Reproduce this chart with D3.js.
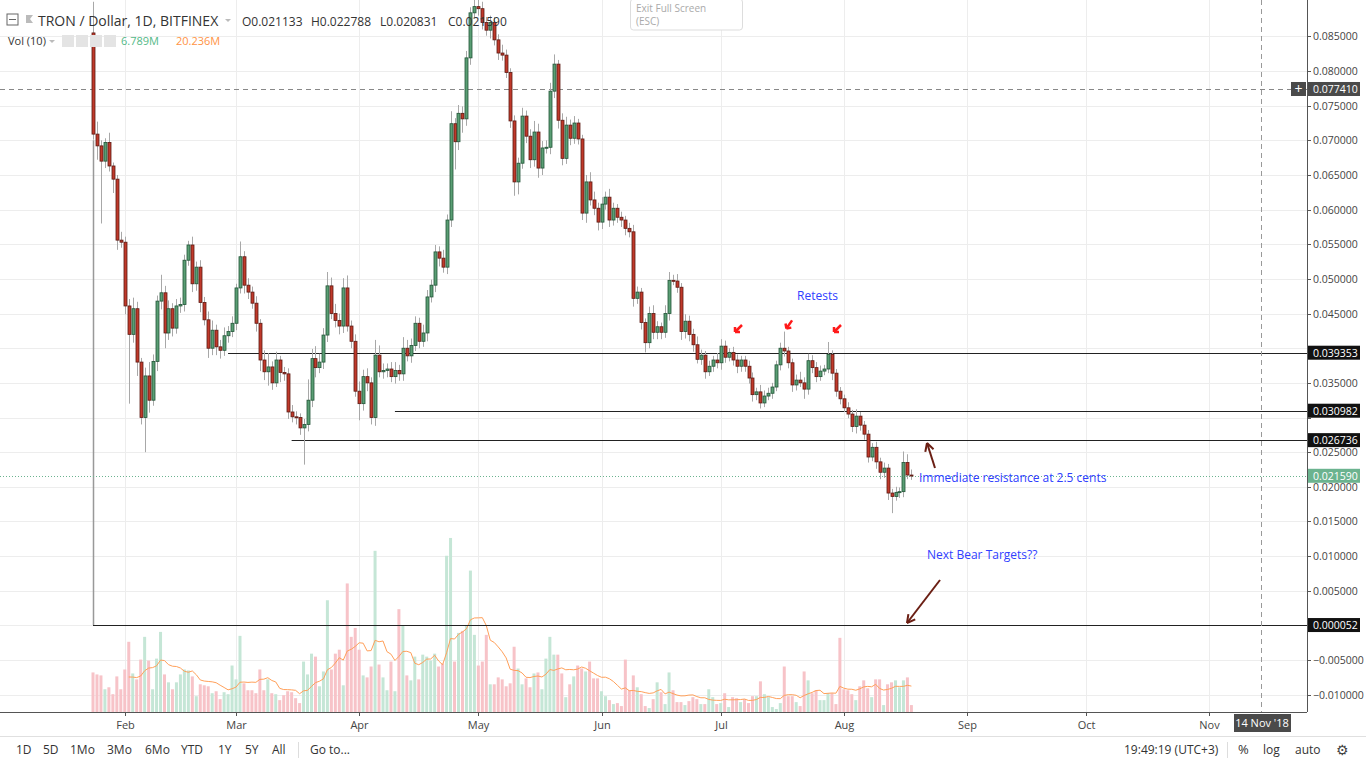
<!DOCTYPE html>
<html><head><meta charset="utf-8">
<script src="https://cdn.jsdelivr.net/npm/d3@7/dist/d3.min.js"></script>
<style>body{margin:0;background:#fff;font-family:"Open Sans",Arial,sans-serif;}svg{display:block}</style>
</head><body><svg id="c" width="1366" height="768"></svg>
<script>
const startDate = "2018-01-24";
const firstOpen = 0.0855;
const closes = [0.0709,0.0692,0.067,0.0697,0.0663,0.0644,0.0556,0.0553,0.0461,0.042,
0.0457,0.038,0.030,0.036,0.0325,0.0381,0.0468,0.048,0.0422,0.0457,
0.0429,0.0461,0.0463,0.0527,0.0549,0.0493,0.0517,0.0466,0.0441,0.0400,
0.0426,0.0402,0.0397,0.0418,0.0424,0.0436,0.0487,0.0532,0.0491,0.0481,
0.0465,0.0436,0.0383,0.0366,0.0373,0.035,0.0383,0.0365,0.0363,0.0308,
0.0301,0.030,0.0285,0.029,0.0325,0.0385,0.0372,0.038,0.0419,0.049,
0.045,0.044,0.0432,0.0487,0.0432,0.041,0.0338,0.032,0.0359,0.035,
0.030,0.039,0.0366,0.0368,0.037,0.0359,0.0368,0.0363,0.040,0.0389,
0.0404,0.0436,0.041,0.0422,0.0474,0.0491,0.0539,0.053,0.0517,0.0585,
0.0724,0.0698,0.0739,0.0731,0.0819,0.0884,0.0893,0.089,0.087,0.0859,
0.087,0.0845,0.0826,0.0823,0.0798,0.0728,0.064,0.0667,0.0735,0.0706,
0.0672,0.0712,0.066,0.0689,0.069,0.0771,0.081,0.0729,0.0674,0.0722,
0.0703,0.0725,0.0702,0.0595,0.064,0.0614,0.0602,0.0582,0.0608,0.0618,
0.0585,0.0602,0.0589,0.0585,0.0573,0.0568,0.0472,0.0481,0.0437,0.0408,
0.045,0.0423,0.0431,0.0423,0.045,0.0498,0.0497,0.0488,0.0424,0.0439,
0.042,0.0405,0.0384,0.039,0.0366,0.0374,0.0383,0.0379,0.0403,0.0387,
0.0394,0.0383,0.0374,0.0383,0.0374,0.0357,0.0333,0.0337,0.0321,0.0331,
0.0335,0.0344,0.0376,0.04,0.0396,0.0379,0.0347,0.0354,0.035,0.0341,
0.0382,0.0372,0.0359,0.0367,0.037,0.0391,0.0364,0.0338,0.0327,0.0314,
0.0305,0.0287,0.0302,0.0289,0.0276,0.0243,0.0257,0.0236,0.0221,0.0227,
0.0191,0.0186,0.0192,0.0193,0.0235,0.0217,0.0216];
const wickUp = [45,18,8,6,14,5,6,12,8,10,16,10,6,12,20,10,8,26,10,12,8,10,10,8,6,12,8,10,8,12,
14,8,10,12,8,10,6,22,8,10,8,10,6,14,20,8,12,6,8,8,10,8,6,8,30,14,18,12,10,20,
12,14,10,14,18,8,10,14,10,12,8,22,14,10,8,10,12,8,16,12,10,10,8,12,10,8,10,8,12,8,
18,8,12,10,10,8,10,12,10,8,10,8,8,12,8,6,8,8,12,8,10,16,12,10,10,12,14,6,10,12,
8,10,6,6,10,14,12,8,10,8,12,8,6,8,6,8,10,8,6,6,10,12,8,6,12,12,8,10,6,10,
8,8,12,8,6,8,6,10,10,8,6,8,8,6,6,8,8,6,10,8,8,6,6,8,24,6,6,8,12,8,
10,8,8,8,6,18,6,6,6,6,8,6,10,6,6,6,6,8,6,8,6,6,8,6,16,12,8];
const wickDn = [8,20,90,10,8,20,14,8,12,100,12,20,10,50,18,8,14,12,22,10,12,8,10,10,8,12,10,14,8,14,
10,12,12,8,10,8,10,8,12,10,8,12,16,12,20,10,6,14,10,10,8,10,10,53,10,10,14,8,10,10,
8,10,12,10,8,10,8,24,10,12,10,12,8,10,10,8,10,10,10,8,10,8,10,8,12,8,10,12,8,10,
10,40,12,20,10,10,8,10,10,8,12,8,10,8,8,10,20,18,8,10,12,10,14,10,8,10,10,12,10,8,
10,8,8,10,14,8,10,12,10,8,10,8,8,10,10,8,12,8,10,14,8,10,10,10,8,10,6,8,12,10,
10,10,6,8,10,6,8,8,10,8,6,8,10,8,8,8,10,8,8,6,6,8,6,8,8,8,10,8,6,14,
8,8,8,6,6,6,10,8,8,6,6,8,10,8,8,8,6,10,10,8,10,24,6,8,8,6,6];
const volumes = [40,38,37,23,25,18,36,23,43,71,39,33,53,76,52,23,54,81,38,30,
23,30,38,43,42,36,16,28,27,26,19,21,13,20,18,47,33,77,29,22,
22,19,43,22,33,19,18,12,17,21,20,14,9,51,38,59,56,26,41,113,
43,59,63,27,130,76,85,63,37,35,46,163,48,35,22,51,21,104,87,37,
32,56,33,58,56,52,59,46,49,158,176,51,80,82,88,143,78,47,51,78,
28,28,35,33,26,29,66,44,28,34,25,39,40,23,54,76,58,58,39,15,
28,36,47,44,41,51,34,34,21,16,12,8,9,6,53,22,37,25,18,6,
4,13,30,20,8,40,22,10,10,7,11,15,13,8,8,23,15,8,9,19,
5,15,14,10,13,9,16,16,31,18,15,5,3,9,46,16,16,10,6,41,
32,19,22,12,12,19,19,8,75,23,22,18,12,26,32,24,15,33,33,7,
28,30,32,25,32,35,7];
const priceTicks = [-0.010,-0.005,0.005,0.010,0.015,0.020,0.025,0.030,0.035,0.040,0.045,0.050,0.055,0.060,0.065,0.070,0.075,0.080,0.085];
const monthTicks = ["2018-02-01","2018-03-01","2018-04-01","2018-05-01","2018-06-01","2018-07-01","2018-08-01","2018-09-01","2018-10-01","2018-11-01"];
const monthLabels = ["Feb","Mar","Apr","May","Jun","Jul","Aug","Sep","Oct","Nov"];
const levels = [{v:0.039353,from:"2018-02-27"},{v:0.030982,from:"2018-04-10"},{v:0.026736,from:"2018-03-15"},{v:0.000052,from:"2018-01-24"}];
const crossPrice = 0.07741, lastPrice = 0.02159;
const rangeBtns = ["1D","5D","1Mo","3Mo","6Mo","YTD","1Y","5Y","All"];

const parse = d3.utcParse("%Y-%m-%d");
const t0 = parse(startDate);
const data = closes.map((c,i)=>{
  const o = i===0?firstOpen:closes[i-1];
  return {date:d3.utcDay.offset(t0,i),o,c,h:Math.max(o,c)+wickUp[i]/10000,l:Math.min(o,c)-wickDn[i]/10000,v:volumes[i]};
});
data.forEach((d,i)=>{ if(i>=9){d.ma=d3.mean(data.slice(i-9,i+1),e=>e.v);} });

const svg = d3.select("#c");
const W=1307, H=712;
const x = d3.scaleUtc().domain([t0, parse("2018-11-14")]).range([93,1261]);
const y = d3.scaleLinear().domain([0,0.085]).range([625.4,36.4]);
const yv = d3.scaleLinear().domain([0,180]).range([712,534]);

const g = svg.append("g");
g.selectAll(".hg").data(priceTicks.concat([0])).join("line").attr("x1",0).attr("x2",W)
 .attr("y1",d=>Math.round(y(d))+.5).attr("y2",d=>Math.round(y(d))+.5).attr("stroke","#ededed");
g.selectAll(".vg").data(monthTicks).join("line").attr("y1",0).attr("y2",H)
 .attr("x1",d=>Math.round(x(parse(d)))+.5).attr("x2",d=>Math.round(x(parse(d)))+.5).attr("stroke","#ededed");

const bw=3;
svg.append("g").selectAll("rect").data(data).join("rect")
 .attr("x",d=>x(d.date)-bw/2).attr("width",bw).attr("y",d=>yv(d.v)).attr("height",d=>712-yv(d.v))
 .attr("fill",d=>d.c>=d.o?"#c5e6d6":"#f7c3c8");
svg.append("path").datum(data.filter(d=>d.ma)).attr("fill","none").attr("stroke","#ffa05a").attr("stroke-width",1)
 .attr("d",d3.line().x(d=>x(d.date)).y(d=>yv(d.ma)));

svg.append("line").attr("x1",93.5).attr("x2",93.5).attr("y1",y(0.07)).attr("y2",y(0.000052)).attr("stroke","#999").attr("stroke-width",1.5);
levels.forEach(l=>svg.append("line").attr("x1",x(parse(l.from))).attr("x2",W).attr("y1",Math.round(y(l.v))+.5).attr("y2",Math.round(y(l.v))+.5).attr("stroke","#222").attr("stroke-width",1));
svg.append("line").attr("x1",0).attr("x2",W).attr("y1",Math.round(y(crossPrice))+.5).attr("y2",Math.round(y(crossPrice))+.5).attr("stroke","#888").attr("stroke-dasharray","5,4");
svg.append("line").attr("x1",0).attr("x2",W).attr("y1",Math.round(y(lastPrice))+.5).attr("y2",Math.round(y(lastPrice))+.5).attr("stroke","#6bb38f").attr("stroke-dasharray","1,2");
svg.append("line").attr("x1",x(parse("2018-11-14"))+.5).attr("x2",x(parse("2018-11-14"))+.5).attr("y1",0).attr("y2",H).attr("stroke","#999").attr("stroke-dasharray","5,4");

const cg = svg.append("g");
data.forEach(d=>{
  const up=d.c>=d.o, cx=Math.round(x(d.date))+.5;
  cg.append("line").attr("x1",cx).attr("x2",cx).attr("y1",y(d.h)).attr("y2",y(d.l)).attr("stroke","#a8a8a8");
  const top=y(Math.max(d.o,d.c)), hh=Math.max(1,y(Math.min(d.o,d.c))-top);
  cg.append("rect").attr("x",cx-1.5).attr("width",3).attr("y",top).attr("height",hh)
    .attr("fill",up?"#5a9e74":"#c0392b").attr("stroke",up?"#225437":"#5b1a13").attr("stroke-width",0.8);
});

svg.append("text").attr("x",797).attr("y",300).text("Retests").attr("fill","#3040ff").attr("font-size",12);
svg.append("text").attr("x",919).attr("y",482).text("Immediate resistance at 2.5 cents").attr("fill","#3040ff").attr("font-size",12);
svg.append("text").attr("x",927).attr("y",559).text("Next Bear Targets??").attr("fill","#3040ff").attr("font-size",12);
[[738,330],[789,326],[837,330]].forEach(([ax,ay],i)=>{
  const a=svg.append("g").attr("transform",`translate(${ax},${ay}) rotate(${i==1?-10:0})`);
  a.append("path").attr("d","M4,-5 L-3,2 M-3,2 L-3,-3 M-3,2 L2,2").attr("stroke","#ff1a1a").attr("stroke-width",2.5).attr("fill","none");
});
function arrow(x1,y1,x2,y2){
  svg.append("line").attr("x1",x1).attr("y1",y1).attr("x2",x2).attr("y2",y2).attr("stroke","#6b1f14").attr("stroke-width",2);
  const ang=Math.atan2(y2-y1,x2-x1), L=9;
  [0.5,-0.5].forEach(s=>svg.append("line").attr("x1",x2).attr("y1",y2)
   .attr("x2",x2-L*Math.cos(ang+s)).attr("y2",y2-L*Math.sin(ang+s)).attr("stroke","#6b1f14").attr("stroke-width",2));
}
arrow(935,468,927,443); arrow(940,580,907,623);

svg.append("line").attr("x1",W+.5).attr("x2",W+.5).attr("y1",0).attr("y2",H).attr("stroke","#555");
svg.append("line").attr("x1",0).attr("x2",W).attr("y1",H+.5).attr("y2",H+.5).attr("stroke","#555");
const ax = svg.append("g");
const tagVals = levels.map(l=>l.v).concat([crossPrice,lastPrice]);
priceTicks.forEach(p=>{
  ax.append("line").attr("x1",W).attr("x2",W+4).attr("y1",Math.round(y(p))+.5).attr("y2",Math.round(y(p))+.5).attr("stroke","#555");
  if (tagVals.some(v=>Math.abs(y(v)-y(p))<10)) return;
  ax.append("text").attr("x",1313).attr("y",y(p)+4).text(d3.format(".6f")(p).replace("-","\u2212")).attr("font-size",10.5).attr("fill","#444");
});
function tag(v,fill,color){
  const yy=y(v);
  ax.append("rect").attr("x",W+1).attr("y",yy-7).attr("width",52).attr("height",14).attr("fill",fill);
  ax.append("text").attr("x",1313).attr("y",yy+4).text(d3.format(".6f")(v)).attr("font-size",10.5).attr("fill",color);
}
levels.forEach(l=>tag(l.v,"#111","#fff"));
tag(crossPrice,"#4a4a4a","#fff"); tag(lastPrice,"#6bb38f","#fff");
svg.append("rect").attr("x",1291).attr("y",y(crossPrice)-7).attr("width",15).attr("height",14).attr("fill","#4a4a4a");
svg.append("text").attr("x",1298.5).attr("y",y(crossPrice)+5).text("+").attr("text-anchor","middle").attr("fill","#fff").attr("font-size",14);

monthTicks.forEach((m,i)=>{
  const xx=Math.round(x(parse(m)))+.5;
  svg.append("line").attr("x1",xx).attr("x2",xx).attr("y1",H).attr("y2",H+4).attr("stroke","#555");
  svg.append("text").attr("x",xx).attr("y",729).attr("text-anchor","middle").text(monthLabels[i]).attr("font-size",11).attr("fill","#444");
});
svg.append("rect").attr("x",1234).attr("y",714).attr("width",57).attr("height",18).attr("fill","#4a4a4a");
svg.append("text").attr("x",1262).attr("y",727).attr("text-anchor","middle").text("14 Nov '18").attr("fill","#fff").attr("font-size",11);

svg.append("rect").attr("x",7).attr("y",14).attr("width",11).attr("height",11).attr("fill","none").attr("stroke","#666");
svg.append("line").attr("x1",9).attr("x2",16).attr("y1",19.5).attr("y2",19.5).attr("stroke","#666");
svg.append("path").attr("d","M26,15 h7 l-3,4 l3,4 h-7z").attr("fill","#bbb");
svg.append("text").attr("x",38).attr("y",26).text("TRON / Dollar, 1D, BITFINEX").attr("font-size",14).attr("fill","#333");
svg.append("path").attr("d","M225,19 l3,3 l3,-3z").attr("fill","#bbb");
const ohlc=[["O","0.021133",242],["H","0.022788",311],["L","0.020831",380],["C","0.021590",448]];
ohlc.forEach(([k,v,xx])=>svg.append("text").attr("x",xx).attr("y",26).attr("font-size",12).attr("fill","#333").text(k+v));
svg.append("text").attr("x",8).attr("y",45).text("Vol (10)").attr("font-size",11).attr("fill","#333");
svg.append("path").attr("d","M49,40 l3,3 l3,-3z").attr("fill","#bbb");
[62,76,90,104].forEach(xx=>svg.append("rect").attr("x",xx).attr("y",35).attr("width",12).attr("height",12).attr("fill","#e4e4e4"));
svg.append("text").attr("x",121).attr("y",45).text("6.789M").attr("font-size",11).attr("fill","#53b987");
svg.append("text").attr("x",176).attr("y",45).text("20.236M").attr("font-size",11).attr("fill","#ff9345");
svg.append("rect").attr("x",630.5).attr("y",-1).attr("width",112).attr("height",31).attr("rx",3).attr("fill","#fff").attr("stroke","#ddd");
svg.append("text").attr("x",636).attr("y",12).text("Exit Full Screen").attr("font-size",10).attr("fill","#aaa");
svg.append("text").attr("x",636).attr("y",25).text("(ESC)").attr("font-size",10).attr("fill","#aaa");

svg.append("line").attr("x1",0).attr("x2",1366).attr("y1",736.5).attr("y2",736.5).attr("stroke","#e0e0e0");
const bxs=[16,43,70,107,145,181,218,245,272];
rangeBtns.forEach((b,i)=>svg.append("text").attr("x",bxs[i]).attr("y",754).text(b).attr("font-size",12).attr("fill","#333"));
svg.append("line").attr("x1",298.5).attr("x2",298.5).attr("y1",742).attr("y2",758).attr("stroke","#ddd");
svg.append("text").attr("x",310).attr("y",754).text("Go to...").attr("font-size",12).attr("fill","#333");
svg.append("text").attr("x",1124).attr("y",754).text("19:49:19 (UTC+3)").attr("font-size",12).attr("fill","#333");
svg.append("line").attr("x1",1227.5).attr("x2",1227.5).attr("y1",742).attr("y2",758).attr("stroke","#ddd");
svg.append("text").attr("x",1238).attr("y",754).text("%").attr("font-size",13).attr("fill","#333");
svg.append("text").attr("x",1263).attr("y",754).text("log").attr("font-size",12).attr("fill","#333");
svg.append("text").attr("x",1295).attr("y",754).text("auto").attr("font-size",12).attr("fill","#333");
svg.append("text").attr("x",1336).attr("y",755).text("⚙").attr("font-size",14).attr("fill","#444");
</script></body></html>
